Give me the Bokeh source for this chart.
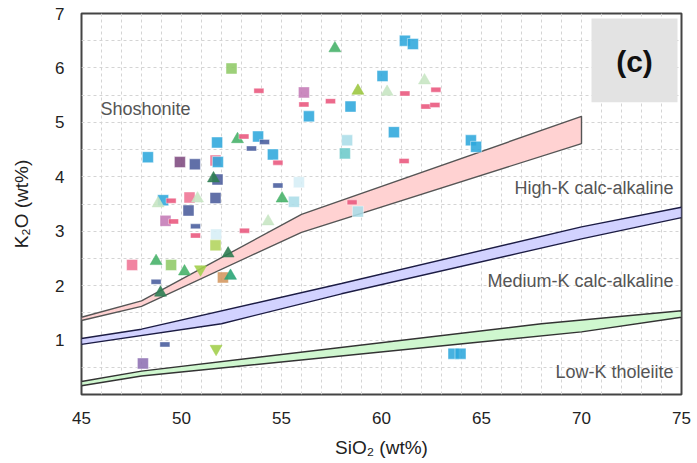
from bokeh.plotting import figure
from bokeh.models import FixedTicker, SingleIntervalTicker, Label, BoxAnnotation, Range1d
from bokeh.embed import file_html
from bokeh.resources import INLINE

# ---- classification boundaries (Peccerillo & Taylor style bands) ----
sho_up_x = [45, 48, 56, 70];         sho_up_y = [1.42, 1.72, 3.31, 5.11]
sho_lo_x = [45, 48, 56, 70];         sho_lo_y = [1.36, 1.62, 2.98, 4.61]
hk_up_x = [45, 48, 58, 70, 75];      hk_up_y = [1.03, 1.20, 2.04, 3.08, 3.44]
hk_lo_x = [45, 52, 58, 70, 75];      hk_lo_y = [0.92, 1.30, 1.85, 2.86, 3.25]
lk_up_x = [45, 48, 68, 75];          lk_up_y = [0.24, 0.43, 1.30, 1.54]
lk_lo_x = [45, 48, 70, 75];          lk_lo_y = [0.16, 0.34, 1.15, 1.42]

# ---- samples ----
blue_sq_x = [48.32, 51.82, 51.78, 49.08, 53.83, 54.57, 56.37, 58.45, 60.05, 60.62, 61.17, 61.57, 64.47, 64.73, 63.60, 63.95]
blue_sq_y = [4.36, 4.27, 4.63, 3.57, 4.74, 4.41, 5.11, 5.29, 5.85, 4.82, 6.50, 6.44, 4.67, 4.55, 0.75, 0.75]
navy_sq_x = [50.67, 51.80, 51.70, 50.35]
navy_sq_y = [4.23, 3.95, 3.61, 3.38]
pink_sq_x = [51.70, 50.40, 47.53]
pink_sq_y = [4.30, 3.62, 2.38]
magenta_sq_x = [49.20, 56.12]
magenta_sq_y = [3.19, 5.55]
plum_sq_x = [49.92]
plum_sq_y = [4.27]
violet_sq_x = [48.07]
violet_sq_y = [0.57]
pale_sq_x = [51.73, 55.87]
pale_sq_y = [2.94, 3.90]
lcyan_sq_x = [55.62, 58.28, 58.82]
lcyan_sq_y = [3.54, 4.67, 3.36]
teal_sq_x = [58.17]
teal_sq_y = [4.43]
lime_sq_x = [51.70]
lime_sq_y = [2.74]
green_sq_x = [52.50, 49.48]
green_sq_y = [5.99, 2.38]
orange_sq_x = [52.07]
orange_sq_y = [2.15]

green_tri_x = [52.80, 57.67, 48.73, 50.15, 55.03]
green_tri_y = [4.69, 6.36, 2.45, 2.26, 3.60]
dgreen_tri_x = [51.60, 52.33, 48.95]
dgreen_tri_y = [3.97, 2.59, 1.87]
tgreen_tri_x = [52.45]
tgreen_tri_y = [2.18]
lgreen_tri_x = [50.80, 48.83, 54.33, 60.28, 62.15]
lgreen_tri_y = [3.60, 3.51, 3.18, 5.56, 5.77]
ygreen_tri_x = [58.82]
ygreen_tri_y = [5.58]
ygreen_dtri_x = [50.95, 51.73]
ygreen_dtri_y = [2.30, 0.84]

pink_dash_x = [49.48, 49.60, 50.70, 53.15, 53.87, 56.12, 57.45, 53.12, 54.82, 61.13, 58.53, 61.17, 62.72, 62.22, 62.67]
pink_dash_y = [3.56, 3.18, 2.92, 3.01, 5.58, 5.33, 5.39, 4.74, 4.26, 4.29, 3.53, 5.53, 5.60, 5.29, 5.32]
navy_dash_x = [53.50, 54.15, 50.70, 48.73, 49.17, 54.82]
navy_dash_y = [4.52, 4.64, 3.09, 2.07, 0.92, 3.84]

x_ticks = [45, 50, 55, 60, 65, 70, 75]
y_ticks = [1, 2, 3, 4, 5, 6, 7]

FONT = "Liberation Sans"

p = figure(width=695, height=460, output_backend="svg", toolbar_location=None,
           x_range=Range1d(45, 75), y_range=Range1d(0, 7),
           min_border_left=81, min_border_right=14, min_border_top=13, min_border_bottom=61)
p.background_fill_color = "white"
p.border_fill_color = "white"
p.outline_line_color = "#444444"
p.outline_line_width = 2

# grid
p.xgrid.ticker = SingleIntervalTicker(interval=1, num_minor_ticks=0)
p.ygrid.ticker = SingleIntervalTicker(interval=0.5, num_minor_ticks=0)
for g in (p.xgrid, p.ygrid):
    g.grid_line_color = "#d4d4d4"
    g.grid_line_dash = "3 3"
    g.grid_line_width = 1

# axes
p.xaxis.ticker = FixedTicker(ticks=x_ticks)
p.yaxis.ticker = FixedTicker(ticks=y_ticks)
for ax in (p.xaxis, p.yaxis):
    ax.axis_line_color = None
    ax.major_tick_line_color = None
    ax.minor_tick_line_color = None
    ax.major_label_text_font = FONT
    ax.major_label_text_font_size = "17px"
    ax.major_label_text_color = "#222222"
    ax.axis_label_text_font = FONT
    ax.axis_label_text_font_size = "19px"
    ax.axis_label_text_font_style = "normal"
    ax.axis_label_text_color = "#222222"
p.xaxis.axis_label = "SiO₂ (wt%)"
p.yaxis.axis_label = "K₂O (wt%)"
p.xaxis.major_label_standoff = 11
p.xaxis.axis_label_standoff = 10
p.yaxis.major_label_standoff = 11
p.yaxis.axis_label_standoff = 20

# bands
def band(ux, uy, lx, ly, fill, line):
    p.patch(ux + lx[::-1], uy + ly[::-1], fill_color=fill, fill_alpha=1.0,
            line_color=line, line_width=1.4)

band(sho_up_x, sho_up_y, sho_lo_x, sho_lo_y, "#ffd2d2", "#555555")
band(hk_up_x, hk_up_y, hk_lo_x, hk_lo_y, "#d2d2ff", "#1c1c44")
band(lk_up_x, lk_up_y, lk_lo_x, lk_lo_y, "#cff7cf", "#333333")

# markers
def squares(x, y, color):
    p.scatter(x, y, marker="square", size=11, fill_color=color, fill_alpha=0.88,
              line_color="white", line_alpha=0.45, line_width=1)

def tris(x, y, color, marker="triangle"):
    p.scatter(x, y, marker=marker, size=12, fill_color=color, fill_alpha=0.9,
              line_color=color, line_alpha=0.5, line_width=1)

def dashes(x, y, color):
    p.rect(x, y, width=10, height=5, width_units="screen", height_units="screen",
           fill_color=color, fill_alpha=0.9, line_color="white", line_alpha=0.4, line_width=1)

squares(pink_sq_x, pink_sq_y, "#ef7394")
squares(blue_sq_x, blue_sq_y, "#2ea7dc")
squares(navy_sq_x, navy_sq_y, "#4b5c9c")
squares(magenta_sq_x, magenta_sq_y, "#c47ab6")
squares(plum_sq_x, plum_sq_y, "#7e4a80")
squares(violet_sq_x, violet_sq_y, "#8d70b3")
squares(pale_sq_x, pale_sq_y, "#d6eef6")
squares(lcyan_sq_x, lcyan_sq_y, "#abdde8")
squares(teal_sq_x, teal_sq_y, "#6ccaca")
squares(lime_sq_x, lime_sq_y, "#b2d45c")
squares(green_sq_x, green_sq_y, "#8fca66")
squares(orange_sq_x, orange_sq_y, "#d4965f")

tris(green_tri_x, green_tri_y, "#48b26a")
tris(dgreen_tri_x, dgreen_tri_y, "#2e7d52")
tris(tgreen_tri_x, tgreen_tri_y, "#2aa577")
tris(lgreen_tri_x, lgreen_tri_y, "#c8e6c3")
tris(ygreen_tri_x, ygreen_tri_y, "#9dc843")
tris(ygreen_dtri_x, ygreen_dtri_y, "#a3cf4e", marker="inverted_triangle")

dashes(pink_dash_x, pink_dash_y, "#ea5a80")
dashes(navy_dash_x, navy_dash_y, "#4d60a0")

# field labels
def field(x, y, text, align):
    p.add_layout(Label(x=x, y=y, text=text, text_align=align, text_baseline="middle",
                       text_font=FONT, text_font_size="18px", text_color="#555555"))

field(45.95, 5.24, "Shoshonite", "left")
field(74.6, 3.80, "High-K calc-alkaline", "right")
field(74.6, 2.08, "Medium-K calc-alkaline", "right")
field(74.6, 0.42, "Low-K tholeiite", "right")

# panel tag
p.add_layout(BoxAnnotation(left=70.5, right=74.8, bottom=5.37, top=6.91,
                           fill_color="#e3e3e3", fill_alpha=1.0, line_color=None))
p.add_layout(Label(x=72.65, y=6.12, text="(c)", text_align="center", text_baseline="middle",
                   text_font=FONT, text_font_size="30px", text_font_style="bold",
                   text_color="#111111"))

open("out.html", "w").write(file_html(p, INLINE))
